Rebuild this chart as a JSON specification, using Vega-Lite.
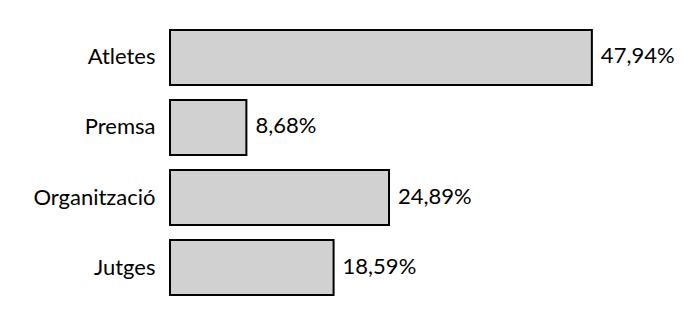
{
  "$schema": "https://vega.github.io/schema/vega-lite/v6.json",
  "width": 528,
  "height": 280,
  "autosize": "none",
  "padding": {"left": 170, "top": 22.5, "right": 2, "bottom": 20.5},
  "background": "white",
  "config": {"view": {"stroke": null}},
  "data": {
    "values": [
      {"categoria": "Atletes", "percent": 47.94, "etiqueta": "47,94%"},
      {"categoria": "Premsa", "percent": 8.68, "etiqueta": "8,68%"},
      {"categoria": "Organització", "percent": 24.89, "etiqueta": "24,89%"},
      {"categoria": "Jutges", "percent": 18.59, "etiqueta": "18,59%"}
    ]
  },
  "encoding": {
    "y": {
      "field": "categoria",
      "type": "nominal",
      "sort": null,
      "scale": {"paddingInner": 0.2143, "paddingOuter": 0.1071},
      "axis": {
        "title": null,
        "domain": false,
        "ticks": false,
        "labelPadding": 15,
        "labelFont": "Lato",
        "labelFontSize": 22,
        "labelColor": "black"
      }
    },
    "x": {
      "field": "percent",
      "type": "quantitative",
      "scale": {"domain": [0, 60], "nice": false},
      "axis": null
    }
  },
  "layer": [
    {
      "mark": {"type": "bar", "fill": "#d1d1d1", "stroke": "black", "strokeWidth": 2, "cornerRadius": 0}
    },
    {
      "mark": {"type": "text", "align": "left", "baseline": "middle", "dx": 9, "dy": -1, "font": "Lato", "fontSize": 22, "color": "black"},
      "encoding": {"text": {"field": "etiqueta", "type": "nominal"}}
    }
  ]
}
